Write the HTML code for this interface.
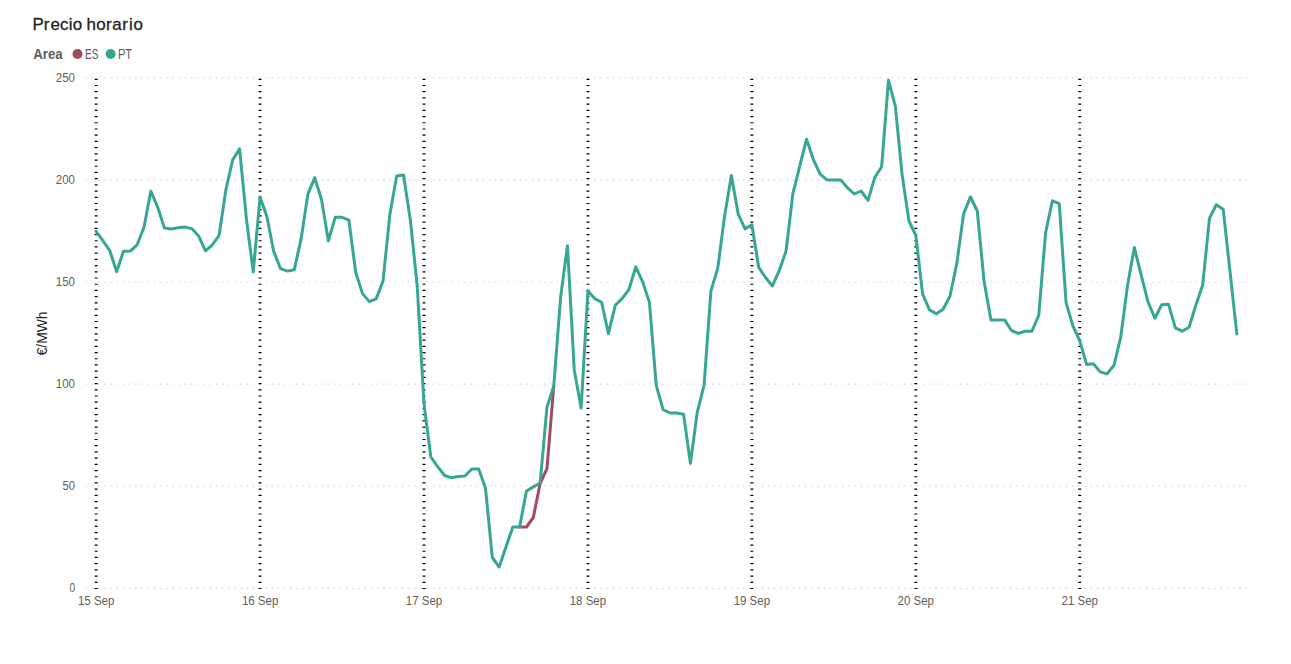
<!DOCTYPE html>
<html><head><meta charset="utf-8"><title>Precio horario</title>
<style>
html,body{margin:0;padding:0;background:#fff;}
body{width:1291px;height:664px;overflow:hidden;font-family:"Liberation Sans",sans-serif;}
svg{display:block;}
text{font-family:"Liberation Sans",sans-serif;}
</style></head>
<body>
<svg width="1291" height="664" viewBox="0 0 1291 664">
<rect width="1291" height="664" fill="#ffffff"/>
<text transform="scale(1.06,1)" y="29.7" x="30.68 41.27 47.63 56.68 64.88 68.63 75.47 81.63 90.75 100.05 105.84 115.42 121.76 125.90" font-size="16" fill="#252423" stroke="#252423" stroke-width="0.3">Precio horario</text>
<text x="33.2" y="58.9" font-size="14.3" font-weight="bold" fill="#605e5c" textLength="29.5" lengthAdjust="spacingAndGlyphs">Area</text>
<circle cx="77.5" cy="54" r="5" fill="#a24c5e"/>
<text x="85.0" y="58.9" font-size="14.5" fill="#605e5c" textLength="13.3" lengthAdjust="spacingAndGlyphs">ES</text>
<circle cx="110.6" cy="54" r="5" fill="#37a693"/>
<text x="117.9" y="58.9" font-size="14.5" fill="#605e5c" textLength="14.2" lengthAdjust="spacingAndGlyphs">PT</text>
<g stroke="#c8c6c4" stroke-width="1.2" stroke-dasharray="1 5.203" fill="none">
<line x1="85.7" x2="1246.7" y1="588.30" y2="588.30"/>
<line x1="85.7" x2="1246.7" y1="486.20" y2="486.20"/>
<line x1="85.7" x2="1246.7" y1="384.10" y2="384.10"/>
<line x1="85.7" x2="1246.7" y1="282.00" y2="282.00"/>
<line x1="85.7" x2="1246.7" y1="179.90" y2="179.90"/>
<line x1="85.7" x2="1246.7" y1="77.80" y2="77.80"/>
</g>
<g stroke="#000000" stroke-width="3" stroke-dasharray="1.2 5.01" fill="none">
<line x1="96.15" x2="96.15" y1="78.7" y2="589.3"/>
<line x1="260.08" x2="260.08" y1="78.7" y2="589.3"/>
<line x1="424.01" x2="424.01" y1="78.7" y2="589.3"/>
<line x1="587.94" x2="587.94" y1="78.7" y2="589.3"/>
<line x1="751.87" x2="751.87" y1="78.7" y2="589.3"/>
<line x1="915.80" x2="915.80" y1="78.7" y2="589.3"/>
<line x1="1079.73" x2="1079.73" y1="78.7" y2="589.3"/>
</g>
<g font-size="12" fill="#605e5c">
<text x="69.40" y="591.90" textLength="5.6" lengthAdjust="spacingAndGlyphs">0</text>
<text x="62.40" y="489.80" textLength="12.6" lengthAdjust="spacingAndGlyphs">50</text>
<text x="55.80" y="387.70" textLength="19.2" lengthAdjust="spacingAndGlyphs">100</text>
<text x="55.80" y="285.60" textLength="19.2" lengthAdjust="spacingAndGlyphs">150</text>
<text x="55.80" y="183.50" textLength="19.2" lengthAdjust="spacingAndGlyphs">200</text>
<text x="55.80" y="82.30" textLength="19.2" lengthAdjust="spacingAndGlyphs">250</text>
<text x="77.95" y="604.9" textLength="36.4" lengthAdjust="spacingAndGlyphs">15 Sep</text>
<text x="241.88" y="604.9" textLength="36.4" lengthAdjust="spacingAndGlyphs">16 Sep</text>
<text x="405.81" y="604.9" textLength="36.4" lengthAdjust="spacingAndGlyphs">17 Sep</text>
<text x="569.74" y="604.9" textLength="36.4" lengthAdjust="spacingAndGlyphs">18 Sep</text>
<text x="733.67" y="604.9" textLength="36.4" lengthAdjust="spacingAndGlyphs">19 Sep</text>
<text x="897.60" y="604.9" textLength="36.4" lengthAdjust="spacingAndGlyphs">20 Sep</text>
<text x="1061.53" y="604.9" textLength="36.4" lengthAdjust="spacingAndGlyphs">21 Sep</text>
</g>
<text transform="translate(46.6,355.4) rotate(-90)" font-size="14.7" fill="#252423" textLength="43.8" lengthAdjust="spacingAndGlyphs">€/MWh</text>
<path d="M519.64,527.00 L526.47,527.00 L533.30,517.50 L540.13,483.50 L546.96,468.60 L553.79,385.90" fill="none" stroke="#a24c5e" stroke-width="3" stroke-linejoin="round" stroke-linecap="round"/>
<path d="M96.15,231.30 L102.98,240.80 L109.81,250.70 L116.64,271.80 L123.47,251.30 L130.30,251.10 L137.13,244.80 L143.96,227.50 L150.79,191.20 L157.62,207.00 L164.45,228.10 L171.28,229.00 L178.12,227.70 L184.95,227.10 L191.78,228.60 L198.61,235.90 L205.44,250.90 L212.27,245.00 L219.10,235.30 L225.93,189.50 L232.76,159.60 L239.59,148.90 L246.42,219.00 L253.25,271.80 L260.08,197.00 L266.91,216.80 L273.74,251.50 L280.57,268.70 L287.40,271.10 L294.23,269.80 L301.06,239.20 L307.89,194.10 L314.72,177.70 L321.55,199.80 L328.38,240.90 L335.21,217.30 L342.05,217.30 L348.88,220.20 L355.71,272.50 L362.54,293.60 L369.37,301.60 L376.20,298.90 L383.03,281.00 L389.86,214.50 L396.69,176.00 L403.52,175.00 L410.35,220.00 L417.18,285.50 L424.01,404.00 L430.84,457.00 L437.67,466.60 L444.50,475.50 L451.33,477.70 L458.16,476.60 L464.99,476.00 L471.82,469.00 L478.65,469.00 L485.48,488.00 L492.31,557.50 L499.14,567.00 L505.98,547.00 L512.81,527.00 L519.64,527.00 L526.47,491.00 L533.30,486.90 L540.13,483.00 L546.96,407.40 L553.79,385.90 L560.62,297.20 L567.45,245.70 L574.28,370.20 L581.11,408.00 L587.94,291.00 L594.77,298.60 L601.60,302.30 L608.43,333.60 L615.26,305.30 L622.09,298.60 L628.92,289.50 L635.75,266.90 L642.58,281.60 L649.41,302.40 L656.24,385.40 L663.07,409.70 L669.91,413.00 L676.74,413.00 L683.57,414.20 L690.40,463.40 L697.23,412.40 L704.06,385.30 L710.89,291.00 L717.72,268.40 L724.55,216.50 L731.38,175.40 L738.21,214.20 L745.04,228.90 L751.87,224.80 L758.70,267.30 L765.53,277.50 L772.36,286.00 L779.19,270.70 L786.02,251.20 L792.85,193.90 L799.68,166.30 L806.51,139.20 L813.34,159.50 L820.17,174.20 L827.00,179.90 L833.84,179.90 L840.67,179.90 L847.50,187.80 L854.33,194.00 L861.16,191.00 L867.99,200.40 L874.82,177.40 L881.65,166.70 L888.48,80.20 L895.31,106.10 L902.14,175.00 L908.97,221.00 L915.80,235.30 L922.63,294.10 L929.46,309.90 L936.29,313.70 L943.12,309.20 L949.95,296.30 L956.78,263.60 L963.61,213.90 L970.44,196.90 L977.27,211.00 L984.10,281.50 L990.93,319.90 L997.77,319.90 L1004.60,319.90 L1011.43,330.50 L1018.26,333.40 L1025.09,331.20 L1031.92,331.20 L1038.75,315.40 L1045.58,232.90 L1052.41,200.80 L1059.24,203.60 L1066.07,302.60 L1072.90,325.80 L1079.73,340.70 L1086.56,364.40 L1093.39,363.70 L1100.22,371.90 L1107.05,373.90 L1113.88,365.50 L1120.71,337.30 L1127.54,285.30 L1134.37,247.60 L1141.20,275.20 L1148.03,302.00 L1154.86,318.20 L1161.69,304.70 L1168.53,304.30 L1175.36,327.80 L1182.19,331.20 L1189.02,327.30 L1195.85,305.20 L1202.68,284.90 L1209.51,218.20 L1216.34,204.70 L1223.17,209.20 L1230.00,271.30 L1236.83,334.10" fill="none" stroke="#37a693" stroke-width="3" stroke-linejoin="round" stroke-linecap="round"/>
</svg>
</body></html>
